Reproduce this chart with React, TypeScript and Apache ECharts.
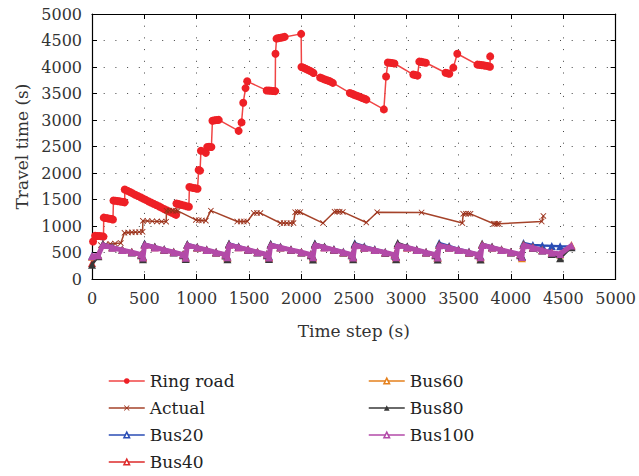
import React, { useEffect, useRef } from "react";
import * as echarts from "echarts";

const FONT = "DejaVu Serif";

const ringRoad: [number, number][] = [
  [10, 707],
  [30, 815], [50, 812], [70, 810], [90, 806], [110, 800],
  [112, 1158], [130, 1150], [150, 1144], [170, 1137], [190, 1130], [200, 1124],
  [205, 1480], [225, 1476], [245, 1470], [265, 1465], [285, 1459], [305, 1452], [312, 1446],
  [313, 1690], [338, 1664], [363, 1640], [388, 1615], [413, 1590], [438, 1566], [463, 1541], [488, 1517],
  [513, 1493], [538, 1468], [563, 1444], [588, 1420], [613, 1395], [638, 1371], [663, 1347], [688, 1322],
  [713, 1298], [738, 1273], [763, 1249], [788, 1225], [803, 1210],
  [806, 1425], [830, 1412], [855, 1398], [880, 1386], [905, 1374], [925, 1362],
  [930, 1735], [950, 1726], [970, 1718], [990, 1710], [1008, 1702],
  [1018, 2058], [1032, 2045],
  [1040, 2420], [1087, 2380], [1100, 2490], [1118, 2495], [1140, 2492],
  [1150, 2985], [1170, 2995], [1190, 3000], [1210, 3002],
  [1400, 2795], [1428, 2955], [1444, 3325], [1466, 3602], [1482, 3730],
  [1668, 3558], [1690, 3555], [1710, 3552], [1730, 3548], [1750, 3545],
  [1752, 4250], [1762, 4535], [1782, 4545], [1802, 4552], [1822, 4560], [1840, 4568],
  [1997, 4625],
  [2000, 4000], [2020, 3985], [2040, 3966], [2060, 3948], [2080, 3928], [2100, 3908], [2115, 3886],
  [2178, 3800], [2198, 3786], [2218, 3770], [2238, 3756], [2258, 3740], [2278, 3724], [2300, 3700],
  [2462, 3510], [2482, 3494], [2502, 3478], [2522, 3462], [2542, 3448], [2562, 3432], [2582, 3416],
  [2602, 3400], [2620, 3384],
  [2787, 3200], [2808, 3820],
  [2825, 4085], [2845, 4080], [2865, 4074], [2888, 4066],
  [3068, 3858], [3088, 3848], [3108, 3838],
  [3125, 4102], [3145, 4096], [3165, 4090], [3188, 4080],
  [3376, 3892], [3396, 3882], [3412, 3872],
  [3450, 3988], [3488, 4250],
  [3680, 4045], [3700, 4040], [3720, 4036], [3740, 4030], [3760, 4024], [3780, 4016], [3800, 4006],
  [3802, 4200],
];

const actual: [number, number][] = [
  [85, 640], [130, 655], [175, 662], [220, 668], [275, 678],
  [310, 872], [345, 876], [380, 880], [415, 884], [450, 887], [483, 890],
  [486, 1098], [530, 1094], [575, 1090], [620, 1087], [665, 1084], [708, 1082],
  [712, 1290], [740, 1292], [770, 1290], [800, 1288], [818, 1286],
  [992, 1115], [1020, 1108], [1050, 1104], [1087, 1100],
  [1135, 1290],
  [1387, 1085], [1420, 1085], [1450, 1085], [1482, 1086],
  [1545, 1245], [1575, 1246], [1608, 1244],
  [1798, 1056], [1830, 1055], [1860, 1054], [1895, 1055], [1924, 1056],
  [1940, 1260], [1965, 1262], [1988, 1260],
  [2206, 1055],
  [2316, 1270], [2340, 1272], [2365, 1270], [2395, 1266],
  [2619, 1065],
  [2723, 1260],
  [3147, 1255],
  [3536, 1055],
  [3545, 1230], [3570, 1232], [3595, 1231], [3614, 1229],
  [3836, 1042], [3850, 1041], [3868, 1040], [3883, 1041],
  [4294, 1085],
  [4310, 1190],
];

const busTimes = [
  0, 60, 104, 195, 290, 380, 470,
  487, 502, 600, 690, 780, 870,
  895, 910, 1005, 1095, 1185, 1275,
  1293, 1308, 1400, 1490, 1580, 1670,
  1690, 1706, 1800, 1900, 2000, 2090,
  2110, 2128, 2220, 2310, 2400, 2480,
  2494, 2509, 2600, 2700, 2800, 2890,
  2904, 2919, 3010, 3100, 3190, 3280,
  3300, 3315, 3410, 3500, 3600, 3690,
  3710, 3725, 3820, 3910, 4000, 4090,
  4105, 4120, 4210, 4300, 4390, 4470, 4578,
];

const bus20 = [
  440, 455, 665, 612, 560, 515, 470,
  430, 668, 615, 565, 518, 472,
  425, 660, 610, 560, 515, 470,
  430, 672, 618, 566, 520, 475,
  428, 665, 612, 562, 516, 470,
  432, 668, 615, 565, 518, 470,
  430, 675, 620, 565, 515, 468,
  428, 665, 612, 560, 515, 470,
  430, 680, 622, 568, 518, 472,
  432, 668, 615, 562, 515, 470,
  435, 680, 640, 630, 625, 620, 615,
];

const bus40 = [
  300, 440, 648, 598, 552, 508, 462,
  415, 650, 600, 553, 508, 462,
  410, 645, 596, 550, 505, 460,
  418, 650, 600, 555, 508, 463,
  412, 645, 598, 552, 507, 461,
  420, 648, 598, 552, 505, 460,
  415, 640, 592, 548, 502, 470,
  415, 642, 596, 550, 504, 461,
  412, 640, 592, 547, 502, 459,
  418, 642, 594, 550, 506, 463,
  420, 645, 595, 545, 500, 470, 625,
];

const bus60 = [
  420, 445, 650, 602, 556, 510, 465,
  395, 652, 603, 556, 510, 464,
  400, 648, 600, 552, 506, 462,
  395, 655, 605, 558, 510, 465,
  398, 650, 600, 554, 508, 462,
  390, 652, 602, 554, 506, 460,
  392, 645, 598, 550, 504, 458,
  385, 650, 600, 552, 505, 462,
  395, 648, 598, 550, 505, 460,
  388, 660, 606, 556, 508, 465,
  392, 655, 600, 548, 500, 460, 640,
];

const bus80 = [
  270, 430, 655, 600, 548, 500, 450,
  375, 660, 604, 552, 500, 448,
  378, 650, 598, 548, 498, 445,
  372, 662, 606, 552, 500, 450,
  376, 655, 600, 550, 500, 448,
  370, 665, 608, 552, 500, 446,
  375, 660, 600, 548, 496, 444,
  372, 680, 615, 555, 500, 448,
  370, 655, 600, 548, 498, 446,
  368, 650, 598, 548, 500, 448,
  420, 645, 590, 540, 470, 390, 600,
];

const bus100 = [
  430, 450, 640, 590, 545, 505, 460,
  405, 645, 595, 550, 505, 460,
  400, 640, 592, 548, 502, 458,
  410, 645, 598, 552, 505, 462,
  405, 640, 595, 550, 505, 460,
  410, 642, 596, 550, 503, 458,
  405, 638, 590, 545, 500, 455,
  410, 640, 595, 548, 502, 460,
  405, 635, 590, 545, 500, 458,
  410, 640, 592, 548, 505, 462,
  415, 638, 590, 540, 495, 470, 630,
];

const busSeries = [
  { name: "Bus20", values: bus20, color: "#2a4db5" },
  { name: "Bus40", values: bus40, color: "#dd2a2a" },
  { name: "Bus60", values: bus60, color: "#e5801c" },
  { name: "Bus80", values: bus80, color: "#383838" },
  { name: "Bus100", values: bus100, color: "#b34aa8" },
];

const X_SYMBOL =
  "path://M0,1 L1,0 L5,4 L9,0 L10,1 L6,5 L10,9 L9,10 L5,6 L1,10 L0,9 L4,5 Z";

export default function App() {
  const ref = useRef<HTMLDivElement>(null);

  useEffect(() => {
    const chart = echarts.init(ref.current!, null, { renderer: "svg" });

    const axisCommon = {
      type: "value" as const,
      min: 0,
      max: 5000,
      interval: 500,
      axisLine: { show: true, onZero: false, lineStyle: { color: "#000", width: 1.2 } },
      axisTick: { show: true, inside: true, length: 5, lineStyle: { color: "#000", width: 1 } },
    };

    const splitLine = {
      show: true,
      lineStyle: { color: "#444", width: 1, type: [1, 10.7] as any },
    };

    const labelStyle = {
      fontFamily: FONT,
      fontSize: 16,
      color: "#333",
      formatter: (v: number) => String(v),
    };

    const series: any[] = [
      {
        name: "Ring road",
        type: "line",
        data: ringRoad,
        symbol: "circle",
        symbolSize: 8,
        showAllSymbol: true,
        lineStyle: { color: "#f04545", width: 1.5 },
        itemStyle: { color: "#ee2026" },
        z: 2,
      },
      {
        name: "Actual",
        type: "line",
        data: actual,
        symbol: X_SYMBOL,
        symbolSize: 6,
        showAllSymbol: true,
        lineStyle: { color: "#a5432a", width: 1.5 },
        itemStyle: { color: "#9a2e18" },
        z: 3,
      },
      ...busSeries.map((s, i) => ({
        name: s.name,
        type: "line",
        data: busTimes.map((t, k) => [t, s.values[k]]),
        symbol: "triangle",
        symbolSize: 8,
        showAllSymbol: true,
        lineStyle: { color: s.color, width: s.name === "Bus100" ? 5 : 2.5 },
        itemStyle: { color: s.color },
        z: 4 + i,
      })),
    ];

    const legendItem = (name: string, color: string, hollow: boolean) => ({
      name,
      itemStyle: hollow
        ? { color: "#fff", borderColor: color, borderWidth: 1.5 }
        : { color },
      lineStyle: { width: 1.5 },
    });

    const legendCommon = {
      orient: "vertical" as const,
      top: 371,
      height: 105,
      padding: 0,
      itemWidth: 36,
      itemHeight: 7,
      itemGap: 7,
      itemTextGap: 6,
      textStyle: { fontFamily: FONT, fontSize: 17, color: "#222", lineHeight: 20 },
    };

    chart.setOption({
      animation: false,
      backgroundColor: "#fff",
      grid: { left: 92, right: 20, top: 14, bottom: 197, containLabel: false },
      xAxis: [
        {
          ...axisCommon,
          position: "bottom",
          axisLabel: { ...labelStyle, margin: 11 },
          splitLine,
          name: "Time step (s)",
          nameLocation: "middle",
          nameGap: 43,
          nameTextStyle: { fontFamily: FONT, fontSize: 17, color: "#333" },
        },
        {
          ...axisCommon,
          position: "top",
          axisLabel: { show: false },
          splitLine: { show: false },
        },
      ],
      yAxis: [
        {
          ...axisCommon,
          position: "left",
          axisLabel: { ...labelStyle, margin: 10 },
          splitLine,
          name: "Travel time (s)",
          nameLocation: "middle",
          nameGap: 59,
          nameTextStyle: { fontFamily: FONT, fontSize: 17, color: "#333" },
        },
        {
          ...axisCommon,
          position: "right",
          axisLabel: { show: false },
          splitLine: { show: false },
        },
      ],
      legend: [
        {
          ...legendCommon,
          left: 108,
          data: [
            legendItem("Ring road", "#ee2026", false),
            legendItem("Actual", "#9a2e18", false),
            legendItem("Bus20", "#2a4db5", true),
            legendItem("Bus40", "#dd2a2a", true),
          ],
        },
        {
          ...legendCommon,
          left: 368,
          data: [
            legendItem("Bus60", "#e5801c", true),
            legendItem("Bus80", "#383838", false),
            legendItem("Bus100", "#b34aa8", true),
          ],
        },
      ],
      series,
    });

    return () => chart.dispose();
  }, []);

  return (
    <div
      ref={ref}
      style={{ position: "fixed", left: 0, top: 0, width: 639, height: 476, background: "#fff" }}
    />
  );
}
